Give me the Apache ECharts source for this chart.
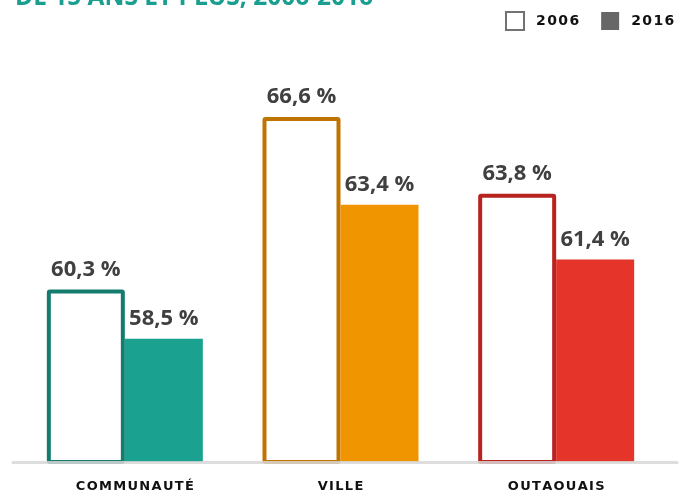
<!DOCTYPE html>
<html>
<head>
<meta charset="utf-8">
<script src="https://cdn.jsdelivr.net/npm/echarts@6/dist/echarts.min.js"></script>
<style>
html,body{margin:0;padding:0;background:#fff;}
#c{width:691px;height:497px;}
</style>
</head>
<body>
<div id="c"></div>
<script>
var categories = ['COMMUNAUTÉ', 'VILLE', 'OUTAOUAIS'];
var values2006 = [60.3, 66.6, 63.8];
var values2016 = [58.5, 63.4, 61.4];
var seriesNames = ['2006', '2016'];
var titleText = 'DE 15 ANS ET PLUS, 2006-2016';

var darkColors = ['#147c6f', '#bf7400', '#b8231f'];
var fillColors = ['#1aa190', '#f09400', '#e5352b'];

function spaced(s) { return s.split('').join('\u200A'); }
function fmt(v) { return v.toFixed(1).replace('.', ',') + ' %'; }

var labelStyle = {
  show: true, position: 'top', distance: 9,
  fontFamily: 'Open Sans', fontWeight: 'bold', fontSize: 22, color: '#404040',
  formatter: function (p) { return fmt(p.value); }
};

var chart = echarts.init(document.getElementById('c'), null, {renderer: 'canvas'});
chart.setOption({
  animation: false,
  title: {
    text: titleText, left: 10, top: -19,
    textStyle: {fontFamily: 'Open Sans', fontWeight: 'bold', fontSize: 24.5, color: '#1a9e8f'}
  },
  legend: {
    left: 500, top: 6, itemWidth: 18, itemHeight: 18, itemGap: 22, icon: 'rect',
    data: [
      {name: seriesNames[0], itemStyle: {color: '#fff', borderColor: '#727272', borderWidth: 2}},
      {name: seriesNames[1], itemStyle: {color: '#676767', borderWidth: 0}}
    ],
    formatter: function (n) { return spaced(n); },
    textStyle: {fontFamily: 'DejaVu Sans', fontWeight: 'bold', fontSize: 14, color: '#111', padding: [3, 0, 0, 7]}
  },
  grid: [
    {left: 17, right: 27, top: 24, bottom: 35},
    {left: 13, right: 14, top: 24, bottom: 35}
  ],
  xAxis: [
    {
      type: 'category', gridIndex: 0, data: categories,
      axisLine: {show: false}, axisTick: {show: false},
      axisLabel: {
        margin: 18, fontFamily: 'DejaVu Sans', fontWeight: 'bold', fontSize: 13, color: '#111',
        formatter: function (v, i) { return i === 0 ? '{sh|' + spaced(v) + '}' : spaced(v); },
        rich: {sh: {fontFamily: 'DejaVu Sans', fontWeight: 'bold', fontSize: 13, color: '#111', padding: [0, 0, 0, 20]}}
      }
    },
    {
      type: 'category', gridIndex: 1, data: categories, z: 10,
      axisLine: {show: true, lineStyle: {color: 'rgba(215,215,215,0.85)', width: 3}},
      axisTick: {show: false}, axisLabel: {show: false}
    }
  ],
  yAxis: [
    {type: 'value', gridIndex: 0, min: 54, max: 70, show: false},
    {type: 'value', gridIndex: 1, min: 54, max: 70, show: false}
  ],
  series: [
    {
      name: seriesNames[0], type: 'bar', xAxisIndex: 0, yAxisIndex: 0,
      barWidth: 78, barGap: '0%',
      itemStyle: {color: '#fff', borderColor: '#727272', borderWidth: 4},
      label: labelStyle,
      data: values2006.map(function (v, i) {
        return {value: v, itemStyle: {color: '#fff', borderColor: darkColors[i], borderWidth: 4, borderRadius: 1}};
      })
    },
    {
      name: seriesNames[1], type: 'bar', xAxisIndex: 0, yAxisIndex: 0,
      barWidth: 78, barGap: '0%',
      itemStyle: {color: '#676767'},
      label: labelStyle,
      data: values2016.map(function (v, i) {
        return {value: v, itemStyle: {color: fillColors[i]}};
      })
    }
  ]
});
</script>
</body>
</html>
